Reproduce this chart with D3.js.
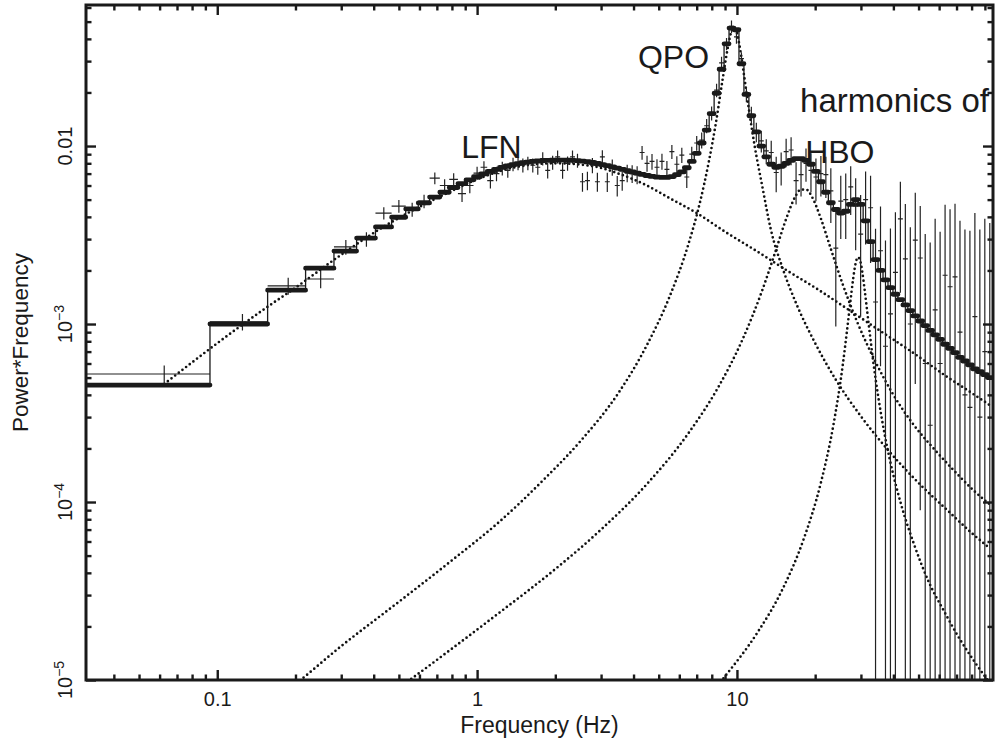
<!DOCTYPE html>
<html>
<head>
<meta charset="utf-8">
<script src="https://cdn.jsdelivr.net/npm/d3@7"></script>
<style>
  body { margin: 0; background: #fff; }
  svg { display: block; }
  text { font-family: "Liberation Sans", Arial, Helvetica, sans-serif; fill: #1a1a1a; }
  .tick line { stroke: #1a1a1a; stroke-width: 2.4; }
</style>
</head>
<body>
<div id="chart"></div>
<script>
// frequency bins (Hz): 0.0625 Hz wide up to 1.5 Hz, log-rebinned above
const binFreq = [
  0.0625, 0.125, 0.1875, 0.25, 0.3125, 0.375, 0.4375, 0.5, 0.5625, 0.625, 0.6875, 0.75,
  0.8125, 0.875, 0.9375, 1.0, 1.0625, 1.125, 1.1875, 1.25, 1.3125, 1.375, 1.4375, 1.5,
  1.568, 1.638, 1.712, 1.789, 1.869, 1.953, 2.041, 2.133, 2.229, 2.329,
  2.434, 2.544, 2.658, 2.778, 2.903, 3.034, 3.170, 3.313, 3.462, 3.618,
  3.781, 3.951, 4.129, 4.314, 4.508, 4.711, 4.923, 5.145, 5.376, 5.618,
  5.871, 6.135, 6.411, 6.700, 7.001, 7.317, 7.646, 7.990, 8.349, 8.725,
  9.118, 9.528, 9.957, 10.405, 10.873, 11.362, 11.874, 12.408, 12.966, 13.550,
  14.160, 14.797, 15.463, 16.158, 16.886, 17.645, 18.439, 19.269, 20.136, 21.042,
  21.989, 22.979, 24.013, 25.093, 26.223, 27.403, 28.636, 29.924, 31.271, 32.678,
  34.149, 35.685, 37.291, 38.969, 40.723, 42.555, 44.470, 46.472, 48.563, 50.748,
  53.032, 55.418, 57.912, 60.518, 63.241, 66.087, 69.061, 72.169, 75.416, 78.810,
  82.357, 86.063, 89.935, 93.983
];

// best-fit model per bin (thick histogram)
const modelPow = [
  4.54e-4, 1.00e-3, 1.55e-3, 2.06e-3, 2.57e-3, 3.04e-3, 3.51e-3, 3.98e-3, 4.43e-3, 4.79e-3, 5.17e-3, 5.50e-3,
  5.85e-3, 6.15e-3, 6.45e-3, 6.72e-3, 6.97e-3, 7.20e-3, 7.40e-3, 7.58e-3, 7.73e-3, 7.86e-3, 7.97e-3, 8.06e-3,
  8.13e-3, 8.19e-3, 8.24e-3, 8.28e-3, 8.30e-3, 8.32e-3, 8.33e-3, 8.33e-3, 8.32e-3, 8.30e-3,
  8.27e-3, 8.22e-3, 8.16e-3, 8.08e-3, 7.98e-3, 7.87e-3, 7.76e-3, 7.64e-3, 7.52e-3, 7.40e-3,
  7.28e-3, 7.16e-3, 7.04e-3, 6.93e-3, 6.83e-3, 6.75e-3, 6.69e-3, 6.66e-3, 6.67e-3, 6.74e-3,
  6.90e-3, 7.15e-3, 7.55e-3, 8.20e-3, 9.10e-3, 1.04e-2, 1.23e-2, 1.52e-2, 1.98e-2, 2.70e-2,
  3.75e-2, 4.60e-2, 4.50e-2, 2.90e-2, 1.95e-2, 1.48e-2, 1.20e-2, 1.00e-2, 8.70e-3, 7.90e-3,
  7.60e-3, 7.70e-3, 8.00e-3, 8.30e-3, 8.50e-3, 8.50e-3, 8.30e-3, 7.90e-3, 7.20e-3, 6.30e-3,
  5.50e-3, 4.80e-3, 4.40e-3, 4.20e-3, 4.30e-3, 4.70e-3, 5.00e-3, 4.70e-3, 3.80e-3, 2.90e-3,
  2.30e-3, 2.00e-3, 1.77e-3, 1.60e-3, 1.47e-3, 1.37e-3, 1.28e-3, 1.19e-3, 1.11e-3, 1.04e-3,
  9.8e-4, 9.2e-4, 8.7e-4, 8.2e-4, 7.7e-4, 7.3e-4, 6.9e-4, 6.5e-4, 6.2e-4, 5.9e-4,
  5.6e-4, 5.4e-4, 5.2e-4, 5.0e-4
];

// measured power*frequency and 1-sigma errors
const dataPow = [
  5.24e-4, 1.03e-3, 1.64e-3, 1.79e-3, 2.71e-3, 3.00e-3, 4.20e-3, 4.60e-3, 4.40e-3, 4.90e-3, 6.60e-3, 6.00e-3,
  6.50e-3, 5.40e-3, 6.00e-3, 7.05e-3, 7.60e-3, 6.40e-3, 7.00e-3, 7.50e-3, 7.30e-3, 7.90e-3, 8.00e-3, 7.80e-3,
  8.0e-3, 7.8e-3, 7.6e-3, 8.5e-3, 7.3e-3, 8.1e-3, 8.7e-3, 7.3e-3, 8.0e-3, 8.7e-3,
  8.3e-3, 6.3e-3, 6.4e-3, 7.8e-3, 6.3e-3, 8.7e-3, 6.3e-3, 7.6e-3, 6.0e-3, 6.4e-3,
  7.05e-3, 7.0e-3, 6.9e-3, 9.2e-3, 8.0e-3, 8.2e-3, 7.6e-3, 8.2e-3, 7.4e-3, 9.3e-3,
  7.9e-3, 8.9e-3, 6.7e-3, 9.0e-3, 1.04e-2, 1.08e-2, 1.30e-2, 1.53e-2, 2.06e-2, 2.93e-2,
  3.75e-2, 4.70e-2, 4.10e-2, 3.10e-2, 1.95e-2, 1.50e-2, 1.20e-2, 1.07e-2, 9.4e-3, 9.2e-3,
  7.1e-3, 7.6e-3, 9.3e-3, 9.5e-3, 6.4e-3, 6.9e-3, 8.0e-3, 7.3e-3, 6.7e-3, 7.0e-3,
  6.9e-3, 5.6e-3, 2.67e-3, 4.9e-3, 5.0e-3, 5.9e-3, 4.6e-3, 3.2e-3, 5.0e-3, 4.5e-3,
  1.33e-3, 2.58e-3, 7.5e-4, 1.14e-3, 1.95e-3, 3.9e-3, 2.32e-3, 1.0e-3, 2.96e-3, 2.35e-3,
  6.0e-4, 2.7e-4, 1.2e-3, 6.0e-4, 1.88e-3, 1.62e-3, 1.84e-3, 9.0e-4, 4.0e-4, 3.4e-4,
  1.1e-3, 3.0e-4, 7.0e-4, 5.0e-4
];
const dataErr = [
  6e-5, 1.1e-4, 1.8e-4, 2.0e-4, 2.6e-4, 2.8e-4, 3.3e-4, 3.8e-4, 4.0e-4, 4.3e-4, 5.0e-4, 5.0e-4,
  5.3e-4, 5.5e-4, 5.7e-4, 6.0e-4, 6.2e-4, 6.3e-4, 6.5e-4, 6.6e-4, 6.7e-4, 6.8e-4, 6.9e-4, 7.0e-4,
  7.0e-4, 7.1e-4, 7.1e-4, 7.2e-4, 7.2e-4, 7.3e-4, 7.3e-4, 7.4e-4, 7.4e-4, 7.5e-4,
  7.5e-4, 7.6e-4, 7.6e-4, 7.7e-4, 7.7e-4, 7.8e-4, 7.8e-4, 7.9e-4, 7.9e-4, 8.0e-4,
  8.0e-4, 8.1e-4, 8.1e-4, 8.2e-4, 8.2e-4, 8.3e-4, 8.3e-4, 8.4e-4, 8.4e-4, 8.5e-4,
  8.6e-4, 8.7e-4, 8.8e-4, 9.0e-4, 1.0e-3, 1.1e-3, 1.2e-3, 1.4e-3, 1.8e-3, 2.4e-3,
  3.0e-3, 3.8e-3, 3.5e-3, 2.6e-3, 1.9e-3, 1.6e-3, 1.5e-3, 1.5e-3, 1.5e-3, 1.5e-3,
  1.6e-3, 1.6e-3, 1.7e-3, 1.7e-3, 1.7e-3, 1.7e-3, 1.7e-3, 1.8e-3, 1.8e-3, 1.8e-3,
  1.8e-3, 1.9e-3, 1.7e-3, 1.9e-3, 2.0e-3, 1.8e-3, 2.0e-3, 2.1e-3, 2.2e-3, 2.3e-3,
  2.1e-3, 2.0e-3, 2.2e-3, 2.3e-3, 2.3e-3, 2.4e-3, 2.4e-3, 2.5e-3, 2.5e-3, 2.26e-3,
  2.6e-3, 2.6e-3, 2.7e-3, 2.7e-3, 2.8e-3, 2.8e-3, 2.9e-3, 2.9e-3, 3.0e-3, 3.0e-3,
  3.1e-3, 3.1e-3, 3.2e-3, 3.2e-3
];

// model components (dotted): low-frequency noise, QPO, two harmonics
const lfnFreq = [0.0625, 0.1, 0.15, 0.2, 0.3, 0.42, 0.6, 0.8, 1.0, 1.4, 2.0, 2.8, 3.5, 4.5, 5.5, 7.0, 9.0, 12.0, 16.0, 20.0, 26.5, 35, 47.6, 65, 80, 94];
const lfnPow = [4.6e-4, 7.8e-4, 1.2e-3, 1.6e-3, 2.45e-3, 3.4e-3, 4.55e-3, 5.6e-3, 6.5e-3, 7.6e-3, 8.0e-3, 7.7e-3, 7.0e-3, 6.0e-3, 5.1e-3, 4.2e-3, 3.3e-3, 2.55e-3, 1.95e-3, 1.6e-3, 1.22e-3, 9.3e-4, 6.9e-4, 5.0e-4, 4.1e-4, 3.5e-4];

const qpoFreq = [0.15, 0.2, 0.3, 0.5, 0.8, 1.2, 1.8, 2.5, 3.5, 4.5, 5.5, 6.5, 7.2, 7.8, 8.3, 8.8, 9.2, 9.5, 9.7, 9.9, 10.2, 10.6, 11.1, 11.7, 12.5, 13.5, 15, 17, 20, 24, 30, 38, 50, 65, 80, 94];
const qpoPow = [7.0e-6, 9.5e-6, 1.55e-5, 2.75e-5, 4.7e-5, 7.6e-5, 1.33e-4, 2.2e-4, 4.1e-4, 7.6e-4, 1.42e-3, 2.8e-3, 4.8e-3, 8.2e-3, 1.35e-2, 2.35e-2, 3.5e-2, 4.35e-2, 4.6e-2, 4.5e-2, 3.76e-2, 2.62e-2, 1.63e-2, 1.0e-2, 6.0e-3, 3.4e-3, 2.05e-3, 1.28e-3, 7.8e-4, 4.87e-4, 3.03e-4, 1.97e-4, 1.28e-4, 8.9e-5, 6.7e-5, 5.5e-5];

const hbo1Freq = [0.4, 0.55, 0.8, 1.2, 2, 3, 4.5, 6.5, 8.5, 10.5, 12.5, 14, 15.5, 16.8, 17.6, 18.5, 19.5, 21, 23, 25.5, 29, 34, 40, 48, 58, 70, 82, 94];
const hbo1Pow = [7.2e-6, 1.0e-5, 1.5e-5, 2.35e-5, 4.2e-5, 7.0e-5, 1.26e-4, 2.43e-4, 4.45e-4, 8.17e-4, 1.54e-3, 2.5e-3, 3.93e-3, 5.22e-3, 5.69e-3, 5.69e-3, 5.14e-3, 3.94e-3, 2.63e-3, 1.68e-3, 1.03e-3, 6.2e-4, 4.0e-4, 2.7e-4, 1.95e-4, 1.45e-4, 1.15e-4, 9.7e-5];

const hbo2Freq = [7, 9, 12, 15, 18, 21, 23.5, 25.5, 26.5, 27.2, 28.0, 28.6, 29.2, 29.8, 30.4, 31.0, 31.8, 32.5, 33.5, 35, 37, 39, 43, 48, 55, 63, 72, 82, 94];
const hbo2Pow = [6.8e-6, 1.05e-5, 1.85e-5, 3.25e-5, 6.1e-5, 1.27e-4, 2.7e-4, 5.78e-4, 9.1e-4, 1.26e-3, 1.79e-3, 2.18e-3, 2.37e-3, 2.27e-3, 1.94e-3, 1.56e-3, 1.14e-3, 8.7e-4, 6.07e-4, 3.88e-4, 2.41e-4, 1.66e-4, 9.5e-5, 5.8e-5, 3.5e-5, 2.4e-5, 1.7e-5, 1.27e-5, 9.6e-6];

// axis ticks and labels
const xMajor = [0.1, 1, 10];
const xMajorText = ["0.1", "1", "10"];
const yMajor = [1e-5, 1e-4, 1e-3, 1e-2];
const yMajorBase = ["10", "10", "10", "0.01"];
const yMajorExp = ["\u22125", "\u22124", "\u22123", ""];

// annotations, anchored in data coordinates (Hz, power*freq)
const noteText = ["LFN", "QPO", "harmonics of", "HBO"];
const noteFreq = [0.868, 4.16, 17.5, 18.3];
const notePow = [8.56e-3, 2.74e-2, 1.55e-2, 8.03e-3];
const noteSize = [32, 32, 33, 32];

var W = 995, H = 745;
var plot = {left: 86, right: 993, top: 5, bottom: 680};

var svg = d3.select("#chart").append("svg")
    .attr("width", W)
    .attr("height", H);

var x = d3.scaleLog().domain([0.03125, 96.7]).range([plot.left, plot.right]);
var y = d3.scaleLog().domain([1e-5, 0.062]).range([plot.bottom, plot.top]);

svg.append("clipPath").attr("id", "clip")
  .append("rect")
    .attr("x", plot.left).attr("y", plot.top)
    .attr("width", plot.right - plot.left).attr("height", plot.bottom - plot.top);

var body = svg.append("g").attr("clip-path", "url(#clip)");

// bin edges from neighbouring bin centres
var n = binFreq.length;
var lo = binFreq.map(function(f, i) { return i === 0 ? f - (binFreq[1] - f) / 2 : (binFreq[i - 1] + f) / 2; });
var hi = binFreq.map(function(f, i) { return i === n - 1 ? f + (f - binFreq[n - 2]) / 2 : (f + binFreq[i + 1]) / 2; });

// ****************** components (dotted) ******************
var line = d3.line()
    .x(function(d) { return x(d[0]); })
    .y(function(d) { return y(d[1]); })
    .curve(d3.curveMonotoneX);

var comps = [
  d3.zip(lfnFreq, lfnPow),
  d3.zip(qpoFreq, qpoPow),
  d3.zip(hbo1Freq, hbo1Pow),
  d3.zip(hbo2Freq, hbo2Pow)
];

body.selectAll("path.comp")
    .data(comps)
  .enter().append("path")
    .attr("class", "comp")
    .attr("d", line)
    .attr("fill", "none")
    .attr("stroke", "#111")
    .attr("stroke-width", 2.7)
    .attr("stroke-linecap", "round")
    .attr("stroke-dasharray", "0 4.6");

// ****************** data crosses ******************
var crossPath = binFreq.map(function(f, i) {
  var v = dataPow[i], e = dataErr[i];
  var low = v - e > 1e-7 ? v - e : 1e-7;
  return "M" + x(lo[i]) + "," + y(v) + "H" + x(hi[i]) +
         "M" + x(f) + "," + y(v + e) + "V" + y(low);
}).join("");

body.append("path")
    .attr("d", crossPath)
    .attr("fill", "none")
    .attr("stroke", "#222")
    .attr("stroke-width", 1.2);

// ****************** model histogram ******************
var risers = binFreq.slice(1).map(function(f, i) {
  return "M" + x(hi[i]) + "," + y(modelPow[i]) + "V" + y(modelPow[i + 1]);
}).join("");

body.append("path")
    .attr("d", risers)
    .attr("fill", "none")
    .attr("stroke", "#1a1a1a")
    .attr("stroke-width", 1.3);

var steps = binFreq.map(function(f, i) {
  return "M" + x(lo[i]) + "," + y(modelPow[i]) + "H" + x(hi[i]);
}).join("");

body.append("path")
    .attr("d", steps)
    .attr("fill", "none")
    .attr("stroke", "#1a1a1a")
    .attr("stroke-width", 4.8)
    .attr("stroke-linecap", "round");

// ****************** axes ******************
function notMajor(majors) {
  return function(t) { return !majors.some(function(m) { return Math.abs(t - m) / m < 1e-6; }); };
}
var xMinor = x.ticks().filter(notMajor(xMajor));
var yMinor = y.ticks().filter(notMajor(yMajor));

function tickRow(axisFn, scale, values, size, transform) {
  svg.append("g")
      .attr("transform", transform)
      .call(axisFn(scale).tickValues(values).tickSize(-size).tickFormat(""))
      .call(function(g) { g.select(".domain").remove(); });
}

tickRow(d3.axisBottom, x, xMinor, 5.5, "translate(0," + plot.bottom + ")");
tickRow(d3.axisTop, x, xMinor, 5.5, "translate(0," + plot.top + ")");
tickRow(d3.axisTop, x, xMajor, 10, "translate(0," + plot.top + ")");
tickRow(d3.axisLeft, y, yMinor, 5.5, "translate(" + plot.left + ",0)");
tickRow(d3.axisLeft, y, yMajor, 10, "translate(" + plot.left + ",0)");
tickRow(d3.axisRight, y, yMinor, 5.5, "translate(" + plot.right + ",0)");
tickRow(d3.axisRight, y, yMajor, 10, "translate(" + plot.right + ",0)");

// bottom major ticks with labels
svg.append("g")
    .attr("transform", "translate(0," + plot.bottom + ")")
    .call(d3.axisBottom(x).tickValues(xMajor).tickSize(-10).tickPadding(12)
      .tickFormat(function(d, i) { return xMajorText[i]; }))
    .call(function(g) {
      g.select(".domain").remove();
      g.selectAll("text")
        .attr("font-size", 20)
        .attr("font-family", "Liberation Sans, Arial, sans-serif")
        .attr("fill", "#1a1a1a");
    });

// left major labels, rotated like the original
var yLab = svg.selectAll("text.ylab")
    .data(yMajor)
  .enter().append("text")
    .attr("class", "ylab")
    .attr("transform", function(d) { return "translate(72," + y(d) + ") rotate(-90)"; })
    .attr("text-anchor", "middle")
    .attr("font-size", 20);
yLab.append("tspan").text(function(d, i) { return yMajorBase[i]; });
yLab.append("tspan")
    .attr("font-size", 14)
    .attr("dy", -8)
    .text(function(d, i) { return yMajorExp[i]; });

// frame
svg.append("rect")
    .attr("x", plot.left).attr("y", plot.top)
    .attr("width", plot.right - plot.left).attr("height", plot.bottom - plot.top)
    .attr("fill", "none")
    .attr("stroke", "#1a1a1a")
    .attr("stroke-width", 3);

// axis titles
svg.append("text")
    .attr("x", (plot.left + plot.right) / 2)
    .attr("y", 733)
    .attr("text-anchor", "middle")
    .attr("font-size", 23)
    .text("Frequency (Hz)");

svg.append("text")
    .attr("transform", "translate(28," + (plot.top + plot.bottom) / 2 + ") rotate(-90)")
    .attr("text-anchor", "middle")
    .attr("font-size", 22.5)
    .text("Power*Frequency");

// annotations
svg.selectAll("text.note")
    .data(noteText)
  .enter().append("text")
    .attr("class", "note")
    .attr("x", function(d, i) { return x(noteFreq[i]); })
    .attr("y", function(d, i) { return y(notePow[i]); })
    .attr("font-size", function(d, i) { return noteSize[i]; })
    .text(function(d) { return d; });
</script>
</body>
</html>
